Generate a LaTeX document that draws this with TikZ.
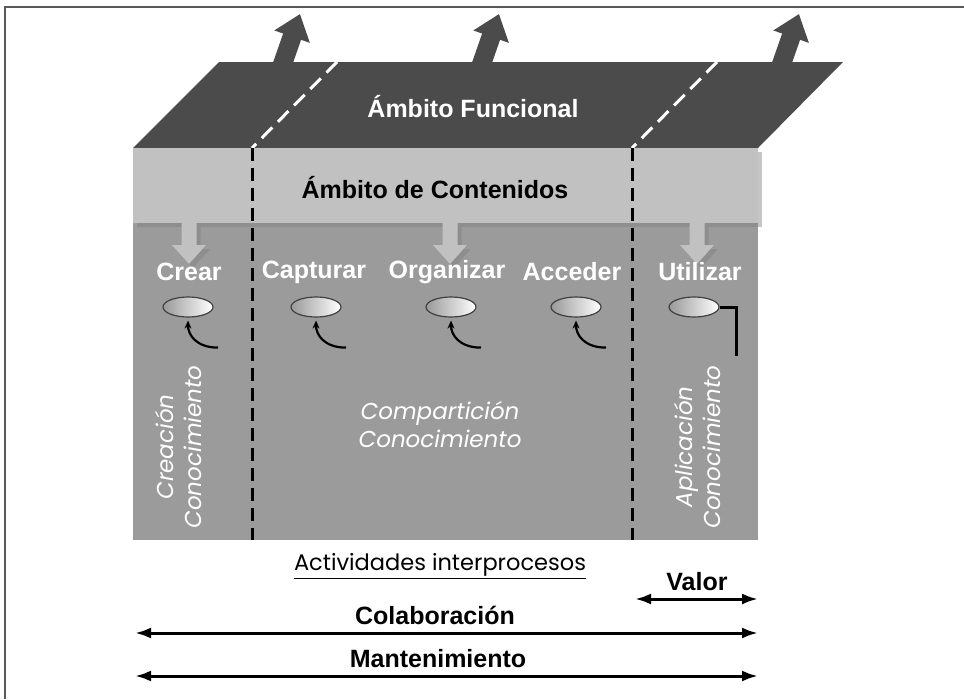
\documentclass[tikz,border=0pt]{standalone}
\usepackage{fontspec}
\setmainfont{Liberation Sans}
\newfontfamily\gothic{Poppins}
\usetikzlibrary{arrows.meta,positioning,shapes.geometric,shadows}
\definecolor{funcgray}{RGB}{75,75,75}
\definecolor{bandgray}{RGB}{193,193,193}
\definecolor{bodygray}{RGB}{155,155,155}
\definecolor{framegray}{RGB}{90,90,90}

\begin{document}
\begin{tikzpicture}[x=1pt, y=-1pt,
  title/.style={font=\fontsize{25}{29}\selectfont\bfseries},
  verb/.style={title, text=white},
  soft/.style={font=\gothic\itshape\fontsize{23}{28}\selectfont, text=white, align=center},
  blob/.style={ellipse, draw=black!75, line width=1.2pt, minimum width=50pt,
               minimum height=20pt, inner sep=0pt, left color=gray!80, right color=white},
  curl/.style={-{Stealth[length=8pt,width=7pt]}, line width=2.2pt},
  boundary/.style={black, line width=3pt, dash pattern=on 13pt off 7pt},
  seam/.style={white, line width=3pt, dash pattern=on 15pt off 8pt},
  span/.style={{Latex[length=16pt,width=11pt]}-{Latex[length=16pt,width=11pt]}, line width=3pt},
  uparrow/.style={funcgray, line width=19pt, -{Triangle[length=24pt,width=36pt]}},
  soft shadow/.style={drop shadow={shadow xshift=4pt, shadow yshift=-4pt, opacity=0.45}},
  downarrow/.pic={
    \fill[bandgray, soft shadow] (-7.5,0) -- (-7.5,22) -- (-17,22) -- (0,41)
      -- (17,22) -- (7.5,22) -- (7.5,0) -- cycle;}]
  \useasboundingbox (0,0) rectangle (964,699);
  \draw[framegray, line width=2.5pt] (5,699) -- (5,7) -- (964,7);

  % upward arrows behind the functional layer
  \draw[uparrow] (277,80) -- (300,14);
  \draw[uparrow] (476,80) -- (499,14);
  \draw[uparrow] (776,80) -- (799,14);

  \fill[funcgray] (219,62) -- (843,62) -- (758,148) -- (133,148) -- cycle;
  \fill[bodygray] (133,223) rectangle (758,540);
  \fill[bandgray, soft shadow] (133,148) rectangle (758,223);
  \foreach \ax in {189,450,697}
    \pic at (\ax,223) {downarrow};

  \draw[seam] (337,62) -- (252,148);
  \draw[seam] (717,62) -- (632,148);
  \draw[boundary] (252,148) -- (252,540);
  \draw[boundary] (632,148) -- (632,540);

  \node[title, text=white] (func) at (473,107) {Ámbito Funcional};
  \node[title] (cont) at (435,188) {Ámbito de Contenidos};

  \foreach \name/\lx/\ex/\txt in {cr/189/188/Crear, ca/314/316/Capturar,
      or/447/451/Organizar, ac/572/576/Acceder, ut/700/694/Utilizar} {
    \node[verb] (lbl-\name) at (\lx,272) {\txt};
    \node[blob] (blob-\name) at (\ex,307) {};
  }
  \foreach \name in {cr,ca,or,ac} {
    \coordinate (tail-\name) at ([xshift=30pt,yshift=-30pt]blob-\name.south);
    \draw[curl] (tail-\name) .. controls +(-22,0) and +(0,14) .. ([yshift=-3pt]blob-\name.south);
  }
  \coordinate (hook) at ([xshift=17pt]blob-ut.east);
  \coordinate (hook-end) at ([xshift=17pt,yshift=-49pt]blob-ut.east);
  \draw[line width=3pt] (blob-ut.east) -- (hook) -- (hook-end);

  \node[soft, rotate=90] (crea) at (179,447) {Creación\\Conocimiento};
  \node[soft] (comp) at (440,425) {Compartición\\Conocimiento};
  \node[soft, rotate=90] (apli) at (697,447) {Aplicación\\Conocimiento};

  \node[font=\gothic\fontsize{22.5}{26}\selectfont] (inter) at (440,566) {\underline{Actividades interprocesos}};
  \node[title] (valor) at (697,582) {Valor};
  \coordinate (valor-l) at (635,599);
  \coordinate (valor-r) at (758,599);
  \draw[span] (valor-l) -- (valor-r);
  \node[title] (colab) at (435,615) {Colaboración};
  \coordinate (colab-l) at (135,633);
  \coordinate (colab-r) at (758,633);
  \draw[span] (colab-l) -- (colab-r);
  \node[title] (mant) at (438,659) {Mantenimiento};
  \coordinate (mant-l) at (135,676);
  \coordinate (mant-r) at (758,676);
  \draw[span] (mant-l) -- (mant-r);
\end{tikzpicture}
\end{document}
